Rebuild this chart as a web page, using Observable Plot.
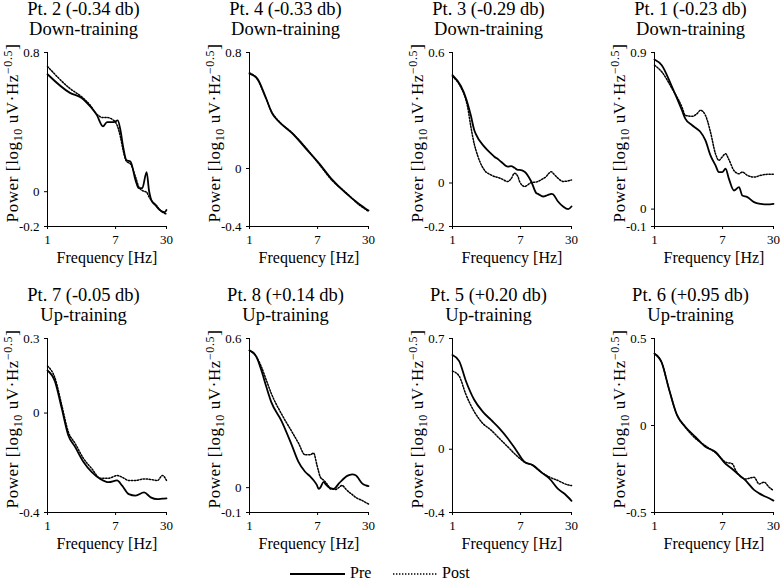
<!DOCTYPE html>
<html><head><meta charset="utf-8">
<script src="https://cdn.jsdelivr.net/npm/d3@7"></script>
<script src="https://cdn.jsdelivr.net/npm/@observablehq/plot@0.6"></script>
<style>
html,body{margin:0;padding:0;background:#fff;overflow:hidden;}
#fig{position:relative;width:780px;height:580px;font-family:"Liberation Serif","Times New Roman",serif;}
.panel{position:absolute;}
.panel svg{max-width:none !important;}
#fig svg text{font-family:"Liberation Serif","Times New Roman",serif !important;}
</style></head><body><div id="fig"></div>
<script>
// ---- Data ----
const seriesNames = ["Pre", "Post"];
const xTicks = [1, 7, 30];

const pt2Freq = [1, 1.9, 2.66, 3.39, 4.1, 4.88, 5.48, 6.63, 7.45, 8.05, 8.69, 9.57, 10.7, 12.4, 13.6, 15.0, 17.0, 18.2, 19.5, 22.1, 25.5, 28.6, 30];
const pt2Pre  = [0.675, 0.568, 0.539, 0.49, 0.44, 0.376, 0.40, 0.40, 0.41, 0.353, 0.257, 0.18, 0.174, 0.065, 0.02, 0.02, 0.113, 0.007, -0.05, -0.08, -0.11, -0.118, -0.105];
const pt2Post = [0.72, 0.593, 0.545, 0.497, 0.445, 0.426, 0.426, 0.41, 0.372, 0.314, 0.238, 0.174, 0.16, 0.084, 0.027, 0.007, -0.003, -0.03, -0.05, -0.075, -0.11, -0.125, -0.127];

const pt4Freq = [1, 1.25, 1.58, 1.91, 2.32, 3.4, 4.98, 7.3, 10.7, 15.7, 22.9, 30];
const pt4Pre  = [0.655, 0.621, 0.495, 0.38, 0.323, 0.242, 0.139, 0.036, -0.079, -0.17, -0.244, -0.29];
const pt4Post = [0.66, 0.615, 0.49, 0.385, 0.325, 0.245, 0.145, 0.03, -0.085, -0.165, -0.25, -0.295];

const pt3Freq = [1, 1.27, 1.47, 1.54, 1.69, 1.86, 1.95, 2.48, 3.01, 3.31, 3.65, 4.01, 4.86, 5.35, 5.89, 6.48, 6.8, 7.85, 9.5, 11.0, 11.5, 13.3, 14.6, 15.3, 16.9, 17.7, 20.4, 23.6, 27.3, 30];
const pt3Pre  = [0.496, 0.446, 0.39, 0.366, 0.31, 0.244, 0.225, 0.167, 0.135, 0.121, 0.11, 0.098, 0.075, 0.078, 0.07, 0.06, 0.06, 0.052, 0.007, -0.047, -0.05, -0.062, -0.058, -0.055, -0.05, -0.052, -0.085, -0.108, -0.12, -0.108];
const pt3Post = [0.49, 0.44, 0.381, 0.35, 0.259, 0.18, 0.152, 0.06, 0.037, 0.03, 0.026, 0.02, 0.007, 0.02, 0.045, 0.03, 0.007, -0.016, 0.002, 0.005, 0.007, 0.02, 0.03, 0.04, 0.052, 0.045, 0.022, 0.007, 0.01, 0.014];

const pt1Freq = [1, 1.23, 1.65, 2.19, 2.41, 2.93, 3.38, 3.72, 4.29, 4.95, 5.72, 6.3, 6.93, 7.62, 8.39, 9.68, 11.2, 12.3, 14.2, 17.2, 20.8, 25.2, 30];
const pt1Pre  = [0.86, 0.827, 0.702, 0.568, 0.52, 0.482, 0.46, 0.443, 0.395, 0.309, 0.251, 0.213, 0.213, 0.232, 0.174, 0.107, 0.126, 0.078, 0.069, 0.04, 0.03, 0.027, 0.03];
const pt1Post = [0.827, 0.789, 0.693, 0.587, 0.539, 0.533, 0.549, 0.568, 0.539, 0.443, 0.318, 0.28, 0.3, 0.318, 0.284, 0.222, 0.203, 0.213, 0.194, 0.184, 0.194, 0.2, 0.2];

const pt7Freq = [1, 1.235, 1.5, 1.81, 2.2, 2.8, 3.55, 4.52, 5.75, 7.31, 8.44, 10.2, 12.4, 15.8, 19.1, 23.2, 26.7, 30];
const pt7Pre  = [0.171, 0.128, 0.02, -0.089, -0.136, -0.197, -0.238, -0.265, -0.278, -0.271, -0.292, -0.326, -0.332, -0.319, -0.339, -0.346, -0.344, -0.343];
const pt7Post = [0.189, 0.142, 0.033, -0.075, -0.122, -0.183, -0.224, -0.262, -0.262, -0.251, -0.258, -0.271, -0.271, -0.265, -0.267, -0.271, -0.251, -0.271];

const pt8Freq = [1, 1.21, 1.4, 1.62, 1.87, 2.5, 3.33, 4.04, 4.9, 5.66, 6.24, 6.87, 7.21, 7.56, 8.32, 8.73, 9.62, 10.1, 11.1, 11.7, 12.8, 14.1, 15.6, 17.2, 18.9, 20.8, 21.8, 25.2, 27.8, 30];
const pt8Pre  = [0.552, 0.528, 0.473, 0.405, 0.343, 0.268, 0.173, 0.105, 0.064, 0.045, 0.03, 0.01, -0.005, 0.0, 0.023, 0.015, 0.002, -0.002, -0.005, 0.0, 0.016, 0.03, 0.043, 0.05, 0.053, 0.05, 0.043, 0.016, 0.009, 0.006];
const pt8Post = [0.552, 0.528, 0.487, 0.432, 0.378, 0.296, 0.227, 0.18, 0.132, 0.132, 0.139, 0.091, 0.065, 0.043, 0.03, 0.023, 0.005, -0.005, -0.006, -0.007, 0.0, 0.009, -0.005, -0.018, -0.028, -0.039, -0.043, -0.052, -0.06, -0.066];

const pt5Freq = [1, 1.21, 1.47, 1.86, 2.37, 3.01, 3.82, 4.86, 6.17, 7.85, 9.97, 12.6, 16.1, 20.4, 24.8, 30];
const pt5Pre  = [0.596, 0.557, 0.43, 0.313, 0.238, 0.185, 0.132, 0.068, -0.006, -0.081, -0.102, -0.145, -0.187, -0.251, -0.283, -0.326];
const pt5Post = [0.494, 0.462, 0.345, 0.238, 0.164, 0.121, 0.068, 0.015, -0.038, -0.081, -0.102, -0.145, -0.177, -0.198, -0.219, -0.23];

const pt6Freq = [1, 1.23, 1.5, 1.9, 2.41, 3.22, 4.29, 5.72, 7.62, 9.23, 10.2, 13.5, 17.2, 19.9, 22.9, 26.5, 30];
const pt6Pre  = [0.413, 0.361, 0.216, 0.061, -0.007, -0.065, -0.123, -0.152, -0.22, -0.25, -0.268, -0.316, -0.37, -0.39, -0.405, -0.418, -0.432];
const pt6Post = [0.413, 0.361, 0.216, 0.061, -0.01, -0.074, -0.117, -0.156, -0.21, -0.22, -0.259, -0.307, -0.297, -0.336, -0.326, -0.355, -0.374];

const panelTitles = ["Pt. 2 (-0.34 db)", "Pt. 4 (-0.33 db)", "Pt. 3 (-0.29 db)", "Pt. 1 (-0.23 db)",
                     "Pt. 7 (-0.05 db)", "Pt. 8 (+0.14 db)", "Pt. 5 (+0.20 db)", "Pt. 6 (+0.95 db)"];
const panelModes = ["Down-training", "Down-training", "Down-training", "Down-training",
                    "Up-training", "Up-training", "Up-training", "Up-training"];
const yDomains = [[-0.2, 0.8], [-0.4, 0.8], [-0.2, 0.6], [-0.1, 0.9],
                  [-0.4, 0.3], [-0.1, 0.6], [-0.4, 0.7], [-0.5, 0.5]];
const yTickSets = [[-0.2, 0, 0.8], [-0.4, 0, 0.8], [-0.2, 0, 0.6], [-0.1, 0, 0.9],
                   [-0.4, 0, 0.3], [-0.1, 0, 0.6], [-0.4, 0, 0.7], [-0.5, 0, 0.5]];
const freqs = [pt2Freq, pt4Freq, pt3Freq, pt1Freq, pt7Freq, pt8Freq, pt5Freq, pt6Freq];
const pres = [pt2Pre, pt4Pre, pt3Pre, pt1Pre, pt7Pre, pt8Pre, pt5Pre, pt6Pre];
const posts = [pt2Post, pt4Post, pt3Post, pt1Post, pt7Post, pt8Post, pt5Post, pt6Post];

// ---- Layout ----
const FONT = "'Liberation Serif', 'Times New Roman', serif";
const fig = document.getElementById("fig");
const axisXs = [47, 249, 452, 654];
const rowTops = [0, 286];
const mL = 47, mR = 8, mT = 52, mB = 44, plotW = 119, H = 270;
const W = mL + plotW + mR;

for (let i = 0; i < 8; i++) {
  const col = i % 4, row = Math.floor(i / 4);
  const pre = freqs[i].map((f, k) => ({f, v: pres[i][k]}));
  const post = freqs[i].map((f, k) => ({f, v: posts[i][k]}));
  const svg = Plot.plot({
    width: W, height: H,
    marginLeft: mL, marginRight: mR, marginTop: mT, marginBottom: mB,
    style: {fontFamily: FONT, fontSize: "13px", overflow: "visible", background: "transparent", color: "black"},
    x: {type: "log", domain: [1, 30], ticks: xTicks, tickFormat: d => String(d), tickSize: 3, tickPadding: 5, line: true, label: null},
    y: {domain: yDomains[i], ticks: yTickSets[i], tickFormat: d => String(d), tickSize: 3, tickPadding: 5, line: true, label: null},
    marks: [
      Plot.line(post, {x: "f", y: "v", stroke: "black", strokeWidth: 1.5, strokeDasharray: "1.4,1.6", curve: "monotone-x"}),
      Plot.line(pre, {x: "f", y: "v", stroke: "black", strokeWidth: 1.8, curve: "monotone-x"}),
      Plot.text(["Frequency [Hz]"], {text: d => d, frameAnchor: "bottom", dy: 36, lineAnchor: "bottom", fontSize: 16, fill: "black"})
    ]
  });
  const s = d3.select(svg);
  s.selectAll("text").attr("font-family", FONT);

  // y-axis label with subscript / superscript
  const t = s.append("text")
    .attr("transform", `translate(17.5,${mT + 81})rotate(-90)`)
    .attr("text-anchor", "middle").attr("font-size", 17).attr("fill", "black")
    .attr("letter-spacing", "0.6px")
    .attr("font-family", FONT);
  t.append("tspan").text("Power [log");
  t.append("tspan").attr("font-size", 12).attr("dy", 4).text("10");
  t.append("tspan").attr("dy", -4).text(" uV\u00B7Hz");
  t.append("tspan").attr("font-size", 12).attr("dy", -6).text("\u22120.5");
  t.append("tspan").attr("dy", 6).text("]");

  const div = document.createElement("div");
  div.className = "panel";
  div.style.left = (axisXs[col] - mL) + "px";
  div.style.top = rowTops[row] + "px";
  div.style.width = W + "px";
  div.style.height = H + "px";
  div.appendChild(svg);
  fig.appendChild(div);
}

// ---- Panel titles ----
const over = d3.select(fig).append("svg")
  .attr("width", 780).attr("height", 580)
  .style("position", "absolute").style("left", "0px").style("top", "0px")
  .style("pointer-events", "none")
  .attr("font-family", FONT);
for (let i = 0; i < 8; i++) {
  const col = i % 4, row = Math.floor(i / 4);
  const cx = axisXs[col] - mL + (mL + plotW) / 2 + 0.5;
  over.append("text").attr("x", cx).attr("y", rowTops[row] + 15).attr("text-anchor", "middle")
    .attr("font-size", 18.5).attr("fill", "black").text(panelTitles[i]);
  over.append("text").attr("x", cx).attr("y", rowTops[row] + 35).attr("text-anchor", "middle")
    .attr("font-size", 18.5).attr("fill", "black").text(panelModes[i]);
}

// ---- Legend ----
const legItems = [{name: seriesNames[0], x0: 290, x1: 345, dash: null, w: 1.8},
                  {name: seriesNames[1], x0: 393, x1: 437, dash: "1.4,1.6", w: 1.5}];
legItems.forEach(it => {
  over.append("line").attr("x1", it.x0).attr("x2", it.x1).attr("y1", 574).attr("y2", 574)
    .attr("stroke", "black").attr("stroke-width", it.w).attr("stroke-dasharray", it.dash);
  over.append("text").attr("x", it.x1 + 5).attr("y", 578).attr("font-size", 16).attr("fill", "black").text(it.name);
});
</script></body></html>
